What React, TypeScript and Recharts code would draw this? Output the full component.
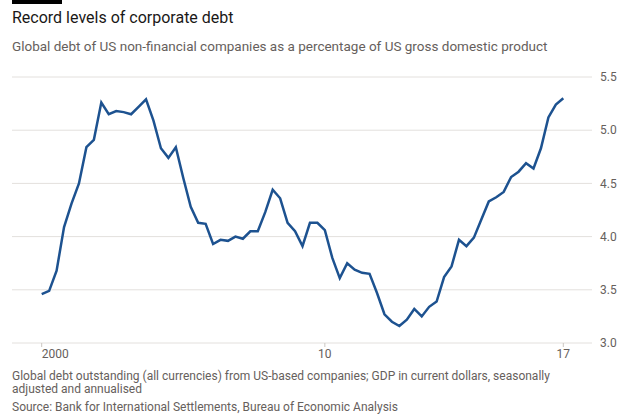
import React from 'react';
import { LineChart, Line, XAxis, YAxis, CartesianGrid } from 'recharts';

// Quarterly, 2000 Q1 to 2017 Q3
const quarters: string[] = [];
for (let y = 2000; y <= 2017; y++) {
  for (let q = 1; q <= 4; q++) {
    if (y === 2017 && q > 3) break;
    quarters.push(`${y} Q${q}`);
  }
}

// Debt as a multiple of GDP
const debtToGdp = [
  3.46, 3.49, 3.68, 4.09, 4.31, 4.5, 4.84, 4.91, 5.26, 5.15,
  5.18, 5.17, 5.15, 5.22, 5.29, 5.09, 4.83, 4.74, 4.84, 4.55,
  4.28, 4.13, 4.12, 3.93, 3.97, 3.96, 4.0, 3.98, 4.05, 4.05,
  4.23, 4.44, 4.36, 4.13, 4.05, 3.91, 4.13, 4.13, 4.06, 3.8,
  3.61, 3.75, 3.69, 3.66, 3.65, 3.47, 3.27, 3.2, 3.16, 3.22,
  3.32, 3.25, 3.34, 3.39, 3.62, 3.72, 3.97, 3.91, 3.99, 4.16,
  4.33, 4.37, 4.42, 4.56, 4.61, 4.69, 4.64, 4.83, 5.12, 5.24, 5.3,
];

const xTicks = ['2000 Q1', '2009 Q3', '2017 Q3'];
const xTickLabels = ['2000', '10', '17'];
const yTicks = [3.0, 3.5, 4.0, 4.5, 5.0, 5.5];

const data = quarters.map((q, i) => ({ quarter: q, value: debtToGdp[i] }));

const FONT = 'Roboto, "Noto Sans", sans-serif';
const GREY = '#66605c';

// first label starts at its tick, the others are centred
const XTick = ({ x, y, payload }: any) => {
  const i = xTicks.indexOf(payload.value);
  return (
    <text
      x={x}
      y={y}
      dy="0.71em"
      textAnchor={i === 0 ? 'start' : 'middle'}
      fontSize={12}
      fill={GREY}
      fontFamily={FONT}
    >
      {xTickLabels[i]}
    </text>
  );
};

const App: React.FC = () => {
  return (
    <div style={{ position: 'absolute', left: 0, top: 0, width: 640, height: 417, overflow: 'hidden', background: '#fff', fontFamily: FONT }}>
      <div style={{ position: 'absolute', left: 12, top: 0, width: 50, height: 4, background: '#000' }} />
      <div style={{ position: 'absolute', left: 12, top: 8, fontSize: 16, color: '#1a1817', whiteSpace: 'nowrap' }}>
        Record levels of corporate debt
      </div>
      <div style={{ position: 'absolute', left: 12, top: 38, fontSize: 13.5, color: GREY, whiteSpace: 'nowrap' }}>
        Global debt of US non-financial companies as a percentage of US gross domestic product
      </div>

      <div style={{ position: 'absolute', left: 0, top: 0 }}>
        <LineChart width={640} height={370} data={data} margin={{ top: 77, right: 8, left: 12, bottom: 7 }}>
          <CartesianGrid vertical={false} stroke="#e3e0dd" strokeWidth={1} />
          <XAxis
            dataKey="quarter"
            ticks={xTicks}
            interval={0}
            axisLine={false}
            tickLine={{ stroke: '#ccc7c2' }}
            tickSize={4}
            tickMargin={2}
            height={20}
            padding={{ left: 29.7, right: 28.7 }}
            tick={<XTick />}
          />
          <YAxis
            orientation="right"
            domain={[3, 5.5]}
            ticks={yTicks}
            tickFormatter={(v: number) => v.toFixed(1)}
            axisLine={false}
            tickLine={false}
            tickMargin={2}
            width={40}
            tick={{ fontSize: 12, fill: GREY, fontFamily: FONT, textAnchor: 'start' }}
          />
          <Line
            type="linear"
            dataKey="value"
            stroke="#1d5290"
            strokeWidth={2.5}
            dot={false}
            isAnimationActive={false}
          />
        </LineChart>
      </div>

      <div style={{ position: 'absolute', left: 12, top: 370, fontSize: 12, lineHeight: '12.5px', color: GREY, width: 580 }}>
        Global debt outstanding (all currencies) from US-based companies; GDP in current dollars, seasonally
        <br />
        adjusted and annualised
      </div>
      <div style={{ position: 'absolute', left: 12, top: 400, fontSize: 12, color: GREY, whiteSpace: 'nowrap' }}>
        Source: Bank for International Settlements, Bureau of Economic Analysis
      </div>
    </div>
  );
};

export default App;
